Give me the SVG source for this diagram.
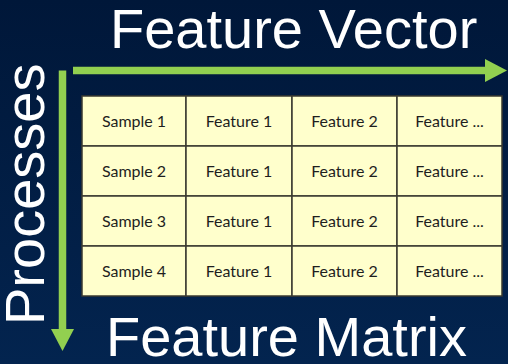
<svg xmlns="http://www.w3.org/2000/svg" width="508" height="364" viewBox="0 0 508 364">
  <defs>
    <linearGradient id="bg" x1="0" y1="0" x2="0" y2="1">
      <stop offset="0" stop-color="#001739"/>
      <stop offset="1" stop-color="#03244f"/>
    </linearGradient>
    <marker id="head" viewBox="0 0 22 23" refX="0" refY="11.5" markerUnits="userSpaceOnUse" markerWidth="22" markerHeight="23" orient="auto">
      <path d="M0,0 L22,11.5 L0,23 Z" fill="#92d050"/>
    </marker>
  </defs>
  <style>
    .title { font-family: Arial, "Liberation Sans", sans-serif; font-size: 56px; fill: #ffffff; }
    .cell rect { fill: #ffffcc; stroke: #3a3a30; stroke-width: 1.5; }
    .cell text { font-family: Lato, "Liberation Sans", sans-serif; font-size: 16px; fill: #1e1e1e; text-anchor: middle; }
    .axis { stroke: #92d050; stroke-width: 7.5; fill: none; marker-end: url(#head); }
  </style>

  <rect x="0" y="0" width="508" height="364" fill="url(#bg)"/>

  <!-- headings -->
  <text class="title" x="110" y="48">Feature Vector</text>
  <text class="title" x="106" y="356">Feature Matrix</text>
  <text class="title" transform="translate(44,325) rotate(-90)">Processes</text>

  <!-- axis arrows -->
  <g id="connectors">
    <path class="axis" d="M73,70.5 H485"/>
    <path class="axis" d="M62.5,70.5 V329"/>
  </g>

  <!-- matrix cells: rows of 50px, columns at 82/186/292/397/502 -->
  <g id="r1c1" class="cell"><rect x="82" y="96" width="104" height="50"/><text x="134" y="126.5">Sample 1</text></g>
  <g id="r1c2" class="cell"><rect x="186" y="96" width="106" height="50"/><text x="239" y="126.5">Feature 1</text></g>
  <g id="r1c3" class="cell"><rect x="292" y="96" width="105" height="50"/><text x="344.5" y="126.5">Feature 2</text></g>
  <g id="r1c4" class="cell"><rect x="397" y="96" width="105" height="50"/><text x="449.5" y="126.5">Feature ...</text></g>

  <g id="r2c1" class="cell"><rect x="82" y="146" width="104" height="50"/><text x="134" y="176.5">Sample 2</text></g>
  <g id="r2c2" class="cell"><rect x="186" y="146" width="106" height="50"/><text x="239" y="176.5">Feature 1</text></g>
  <g id="r2c3" class="cell"><rect x="292" y="146" width="105" height="50"/><text x="344.5" y="176.5">Feature 2</text></g>
  <g id="r2c4" class="cell"><rect x="397" y="146" width="105" height="50"/><text x="449.5" y="176.5">Feature ...</text></g>

  <g id="r3c1" class="cell"><rect x="82" y="196" width="104" height="50"/><text x="134" y="226.5">Sample 3</text></g>
  <g id="r3c2" class="cell"><rect x="186" y="196" width="106" height="50"/><text x="239" y="226.5">Feature 1</text></g>
  <g id="r3c3" class="cell"><rect x="292" y="196" width="105" height="50"/><text x="344.5" y="226.5">Feature 2</text></g>
  <g id="r3c4" class="cell"><rect x="397" y="196" width="105" height="50"/><text x="449.5" y="226.5">Feature ...</text></g>

  <g id="r4c1" class="cell"><rect x="82" y="246" width="104" height="50"/><text x="134" y="276.5">Sample 4</text></g>
  <g id="r4c2" class="cell"><rect x="186" y="246" width="106" height="50"/><text x="239" y="276.5">Feature 1</text></g>
  <g id="r4c3" class="cell"><rect x="292" y="246" width="105" height="50"/><text x="344.5" y="276.5">Feature 2</text></g>
  <g id="r4c4" class="cell"><rect x="397" y="246" width="105" height="50"/><text x="449.5" y="276.5">Feature ...</text></g>
</svg>
